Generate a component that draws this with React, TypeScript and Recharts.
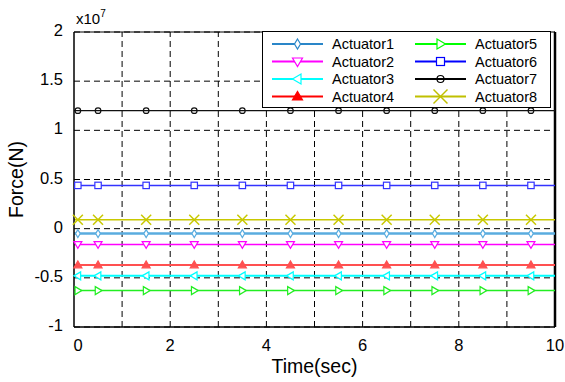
import React from "react";
import {
  LineChart, Line, XAxis, YAxis, CartesianGrid, ReferenceLine, Label,
} from "recharts";

// ─────────────────────────────────────────
// Data (force in units of 1e7 N)
// ─────────────────────────────────────────
const actuatorNames = [
  "Actuator1", "Actuator2", "Actuator3", "Actuator4",
  "Actuator5", "Actuator6", "Actuator7", "Actuator8",
];
const forceLevels = [-0.05, -0.16, -0.48, -0.37, -0.63, 0.44, 1.2, 0.09];
const sampleTimes = [0, 0.08, 0.5, 1.5, 2.5, 3.5, 4.5, 5.5, 6.5, 7.5, 8.5, 9.5, 10];
const markerTimes = [0.08, 0.5, 1.5, 2.5, 3.5, 4.5, 5.5, 6.5, 7.5, 8.5, 9.5];
const xTicks = [0, 2, 4, 6, 8, 10];
const xGrid = [1, 2, 3, 4, 5, 6, 7, 8, 9];
const yTicks = [-1, -0.5, 0, 0.5, 1, 1.5, 2];

const rows = sampleTimes.map((t) => {
  const row: Record<string, number> = { t };
  actuatorNames.forEach((name, i) => { row[name] = forceLevels[i]; });
  return row;
});

// ─────────────────────────────────────────
// Series styles
// ─────────────────────────────────────────
type Marker = "diamond" | "down" | "left" | "up" | "right" | "square" | "circle" | "cross";
const SERIES: { line: string; key: string; width: number; marker: Marker; filled?: boolean }[] = [
  { line: "#5aacdf", key: "#2a86c8", width: 2.5, marker: "diamond" },
  { line: "#ff00ff", key: "#ff00ff", width: 1.5, marker: "down" },
  { line: "#00ffff", key: "#00ffff", width: 2,   marker: "left" },
  { line: "#ff5050", key: "#ff0000", width: 2,   marker: "up", filled: true },
  { line: "#22ee22", key: "#00ff00", width: 1.5, marker: "right" },
  { line: "#3333ff", key: "#0000ff", width: 1.5, marker: "square" },
  { line: "#111111", key: "#000000", width: 1.2, marker: "circle" },
  { line: "#c8c800", key: "#c0c000", width: 1.5, marker: "cross" },
];

const FONT = "'Liberation Sans', Arial, Helvetica, sans-serif";

function MarkerGlyph({ type, cx, cy, s, color, filled }: {
  type: Marker; cx: number; cy: number; s: number; color: string; filled?: boolean;
}) {
  const fill = filled ? color : "#fff";
  const sw = 1.2;
  switch (type) {
    case "diamond":
      return <polygon points={`${cx},${cy - s} ${cx + s * 0.6},${cy} ${cx},${cy + s} ${cx - s * 0.6},${cy}`}
        fill={fill} stroke={color} strokeWidth={sw} />;
    case "down":
      return <polygon points={`${cx - s},${cy - s * 0.7} ${cx + s},${cy - s * 0.7} ${cx},${cy + s}`}
        fill={fill} stroke={color} strokeWidth={sw} />;
    case "up":
      return <polygon points={`${cx - s},${cy + s * 0.7} ${cx + s},${cy + s * 0.7} ${cx},${cy - s}`}
        fill={fill} stroke={color} strokeWidth={sw} />;
    case "left":
      return <polygon points={`${cx + s * 0.7},${cy - s} ${cx + s * 0.7},${cy + s} ${cx - s},${cy}`}
        fill={fill} stroke={color} strokeWidth={sw} />;
    case "right":
      return <polygon points={`${cx - s * 0.7},${cy - s} ${cx - s * 0.7},${cy + s} ${cx + s},${cy}`}
        fill={fill} stroke={color} strokeWidth={sw} />;
    case "square":
      return <rect x={cx - s * 0.8} y={cy - s * 0.8} width={s * 1.6} height={s * 1.6}
        fill={fill} stroke={color} strokeWidth={sw} />;
    case "circle":
      return <circle cx={cx} cy={cy} r={s * 0.7} fill="none" stroke={color} strokeWidth={sw} />;
    case "cross":
      return (
        <g stroke={color} strokeWidth={sw + 0.3}>
          <line x1={cx - s} y1={cy - s} x2={cx + s} y2={cy + s} />
          <line x1={cx - s} y1={cy + s} x2={cx + s} y2={cy - s} />
        </g>
      );
  }
  return null;
}

function makeDot(i: number) {
  const st = SERIES[i];
  return (props: any) => {
    const { cx, cy, payload, index } = props;
    if (!markerTimes.includes(payload.t)) return <g key={index} />;
    return (
      <g key={index}>
        <MarkerGlyph type={st.marker} cx={cx} cy={cy} s={st.marker === "cross" ? 5 : 4}
          color={st.line} filled={st.filled} />
      </g>
    );
  };
}

function LegendBox() {
  const rowY = (r: number) => 13 + r * 17.5;
  return (
    <svg width={289} height={77} style={{ display: "block" }}>
      <rect x={0.5} y={0.5} width={288} height={76} fill="#fff" stroke="#000" strokeWidth={1} />
      {actuatorNames.map((name, i) => {
        const col = i < 4 ? 0 : 1;
        const y = rowY(i % 4);
        const x0 = col === 0 ? 10 : 153;
        const st = SERIES[i];
        return (
          <g key={name}>
            <line x1={x0} y1={y} x2={x0 + 51} y2={y} stroke={st.key} strokeWidth={2} />
            <MarkerGlyph type={st.marker} cx={x0 + 25.5} cy={y}
              s={st.marker === "cross" ? 7 : 5}
              color={st.key} filled={st.filled} />
            <text x={x0 + 60} y={y} dy="0.36em" fontSize={14.5} fontFamily={FONT} fill="#000">
              {name}
            </text>
          </g>
        );
      })}
    </svg>
  );
}

const XTick = (props: any) => {
  const { x, y, payload } = props;
  return (
    <text x={x + (payload.value === 0 ? 4 : 0)} y={y} dy="0.71em" textAnchor="middle"
      fontSize={16.5} fontFamily={FONT} fill="#000">
      {payload.value}
    </text>
  );
};

const YTick = (props: any) => {
  const { x, y, payload } = props;
  return (
    <text x={x} y={y} dy="0.25em" textAnchor="end" fontSize={16.5} fontFamily={FONT} fill="#000">
      {payload.value}
    </text>
  );
};

export default function App() {
  return (
    <div style={{ position: "absolute", left: 0, top: 0, width: 565, height: 382, background: "#fff" }}>
      <LineChart width={565} height={382} data={rows}
        margin={{ top: 32, right: 10, left: 0, bottom: 0 }}>
        <CartesianGrid vertical={false} stroke="#000" strokeDasharray="6 4" strokeWidth={1} />
        {xGrid.map((v) => (
          <ReferenceLine key={v} x={v} stroke="#000" strokeDasharray="6 4" strokeWidth={1} />
        ))}
        <XAxis dataKey="t" type="number" domain={[0, 10]} ticks={xTicks} height={55}
          axisLine={{ stroke: "#000", strokeWidth: 1.5 }} tickLine={false}
          tickSize={10} tickMargin={2} tick={<XTick />} interval={0}>
          <Label value="Time(sec)" position="insideBottom" offset={9}
            style={{ fontSize: 19.5, fontFamily: FONT, fill: "#000" }} />
        </XAxis>
        <YAxis type="number" domain={[-1, 2]} ticks={yTicks} width={74}
          axisLine={{ stroke: "#000", strokeWidth: 1.5 }} tickLine={false}
          tickSize={9} tickMargin={2} tick={<YTick />} interval={0}>
          <Label value="Force(N)" angle={-90} position="insideLeft" offset={16}
            style={{ fontSize: 19.5, fontFamily: FONT, fill: "#000", textAnchor: "middle" }} />
        </YAxis>
        <ReferenceLine y={2} stroke="#000" strokeWidth={1} />
        <ReferenceLine x={10} stroke="#000" strokeWidth={2.5} />
        {actuatorNames.map((name, i) => (
          <Line key={name} dataKey={name} type="linear" stroke={SERIES[i].line}
            strokeWidth={SERIES[i].width} dot={makeDot(i)} activeDot={false}
            isAnimationActive={false} />
        ))}
      </LineChart>
      <div style={{ position: "absolute", left: 262, top: 31 }}>
        <LegendBox />
      </div>
      <div style={{ position: "absolute", left: 76, top: 9, fontFamily: FONT, fontSize: 15, color: "#000" }}>
        x10<sup style={{ fontSize: 10, position: "relative", top: -1 }}>7</sup>
      </div>
    </div>
  );
}
